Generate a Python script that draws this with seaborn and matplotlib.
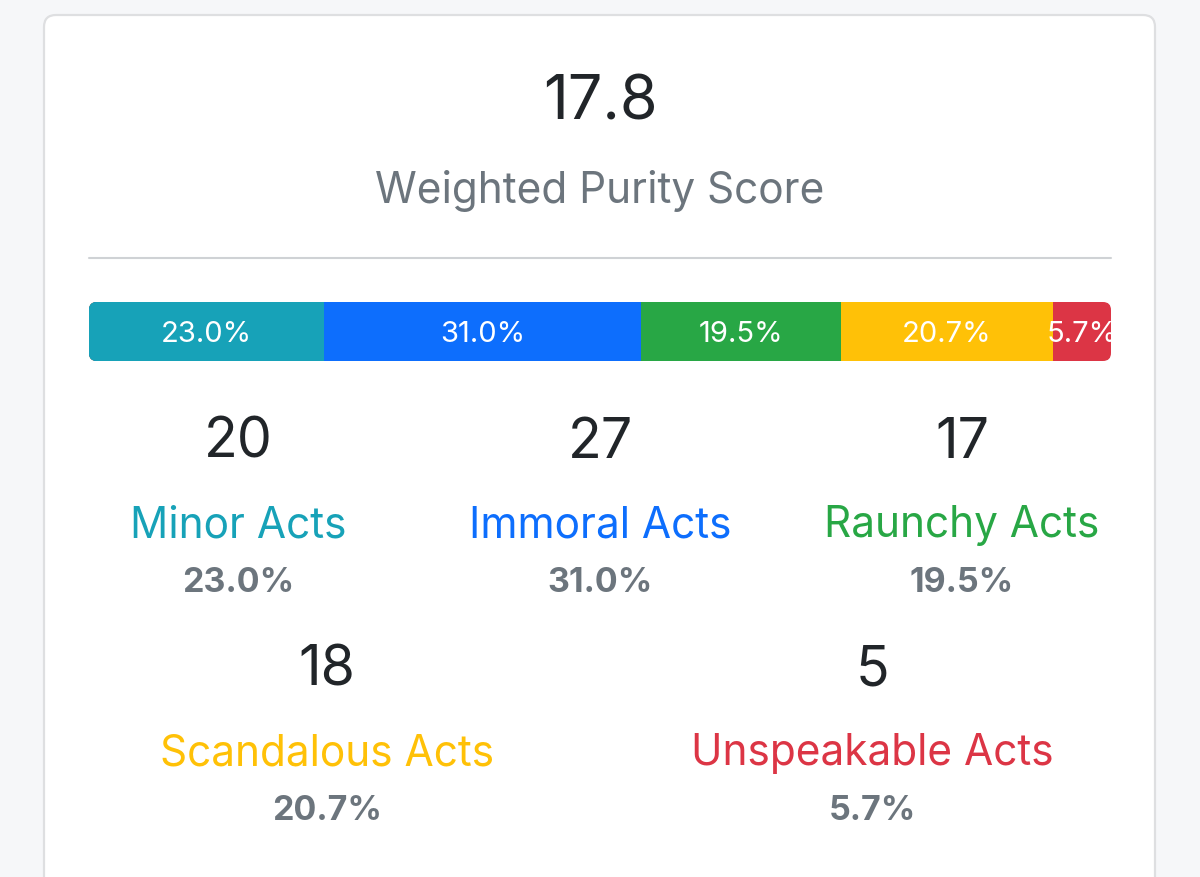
import matplotlib
matplotlib.use("Agg")
import matplotlib.pyplot as plt
import seaborn as sns
import numpy as np
from matplotlib.patches import FancyBboxPatch

score = "17.8"
score_label = "Weighted Purity Score"
categories = ["Minor Acts", "Immoral Acts", "Raunchy Acts", "Scandalous Acts", "Unspeakable Acts"]
counts = [20, 27, 17, 18, 5]
percents = [23.0, 31.0, 19.5, 20.7, 5.7]
colors = ["#17a2b8", "#0d6efd", "#28a745", "#ffc107", "#dc3545"]

sns.set_style("white")
plt.rcParams["font.family"] = ["Inter", "DejaVu Sans"]

W, H = 1200, 877
fig = plt.figure(figsize=(12, 8.77), dpi=100, facecolor="#f6f7f9")

# background axes in pixel units
bg = fig.add_axes([0, 0, 1, 1])
bg.set_xlim(0, W)
bg.set_ylim(H, 0)
bg.axis("off")
bg.patch.set_alpha(0)

card = FancyBboxPatch((44, 15), 1111, 900, boxstyle="round,pad=0,rounding_size=12",
                      facecolor="white", edgecolor="#dedfe1", lw=1.6)
bg.add_patch(card)

bg.text(600, 103, score, ha="center", va="center", fontsize=44, color="#212529")
bg.text(600, 191, score_label, ha="center", va="center", fontsize=30.5, color="#6c757d")
bg.plot([89, 1111], [258, 258], color="#cfd2d5", lw=1.5)

# stacked progress bar
bx0, by0, bw, bh = 89, 302, 1022, 59
bar_ax = fig.add_axes([bx0 / W, 1 - (by0 + bh) / H, bw / W, bh / H])
ends = np.cumsum(percents)
starts = ends - np.array(percents)
for i in reversed(range(len(categories))):
    sns.barplot(x=[ends[i]], y=["bar"], color=colors[i], orient="h", width=1,
                saturation=1, linewidth=0, ax=bar_ax)
bar_ax.set_xlim(0, ends[-1])
bar_ax.set_ylim(0.5, -0.5)
bar_ax.axis("off")

clip = FancyBboxPatch((bx0, by0), bw, bh, boxstyle="round,pad=0,rounding_size=8",
                      facecolor="none", edgecolor="none")
bg.add_patch(clip)
for p in bar_ax.patches:
    p.set_clip_path(clip)
for s, v in zip(starts, percents):
    t = bar_ax.text(s + v / 2, 0.05, f"{v:.1f}%", ha="center", va="center",
                    fontsize=21, color="white")
    t.set_clip_path(clip)

# stat blocks
pos = [(238, 443), (600, 443), (962, 443), (327, 671), (872, 671)]
for (x, y), name, n, pct, c in zip(pos, categories, counts, percents, colors):
    bg.text(x, y, str(n), ha="center", va="center", fontsize=40, color="#212529")
    bg.text(x, y + 83, name, ha="center", va="center", fontsize=30.5, color=c)
    bg.text(x, y + 140, f"{pct:.1f}%", ha="center", va="center", fontsize=24.5,
            fontweight="bold", color="#6c757d")

fig.savefig("out.png", dpi=100, facecolor=fig.get_facecolor())
